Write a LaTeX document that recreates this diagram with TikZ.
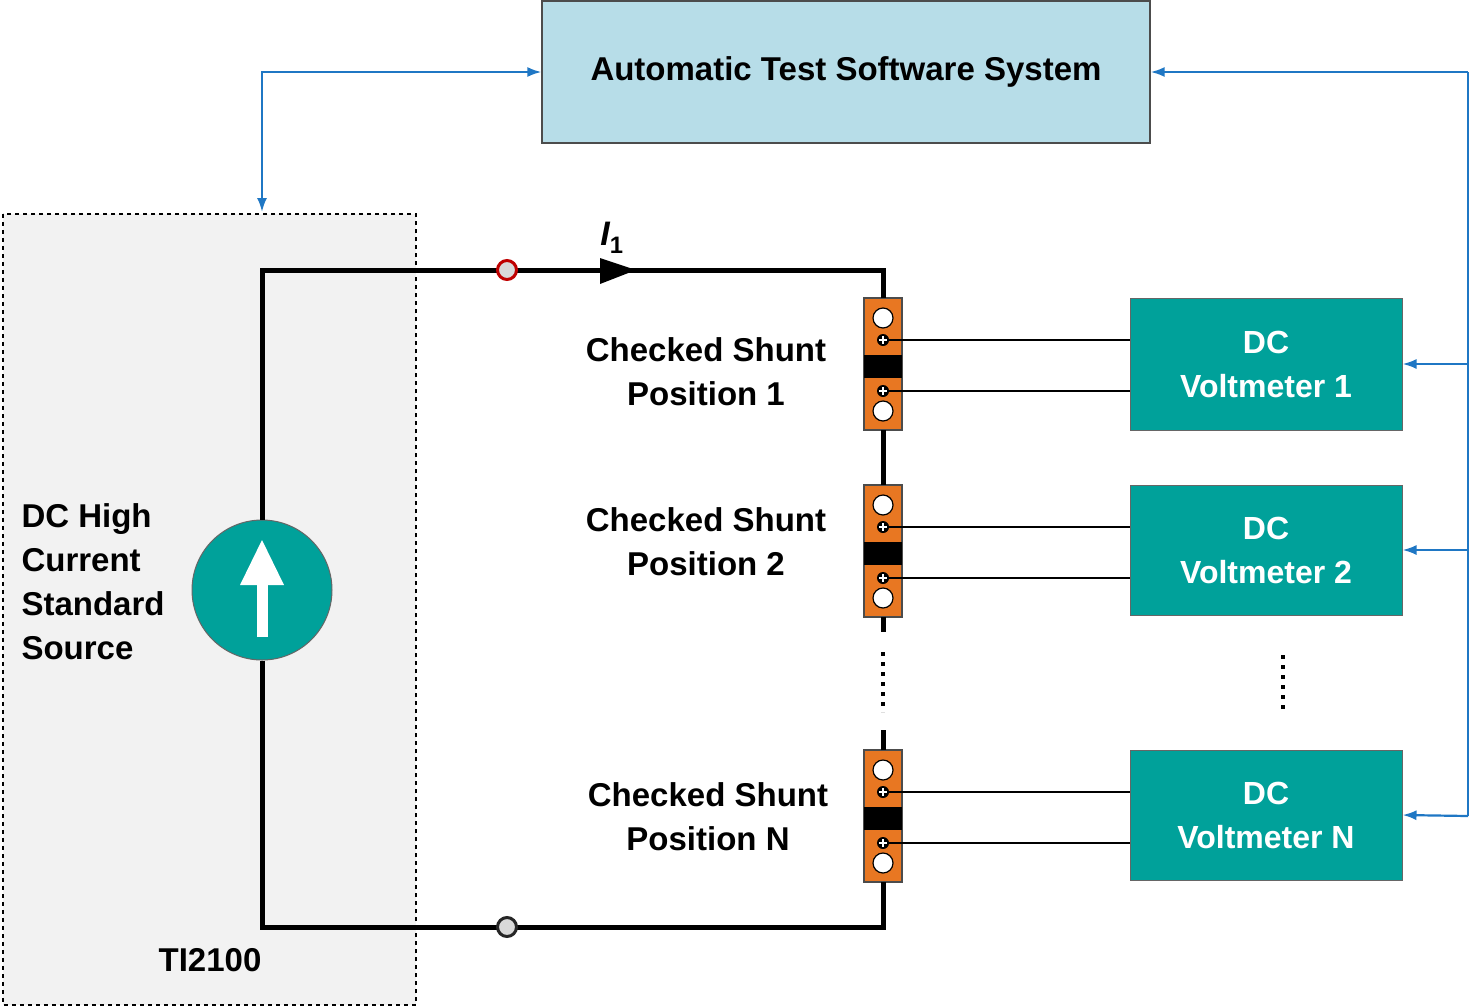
\documentclass[tikz,border=0pt]{standalone}
\usepackage{fontspec}
\setmainfont{Liberation Sans}
\usetikzlibrary{arrows.meta}
\definecolor{teal1}{HTML}{00A19A}
\definecolor{lblue}{HTML}{B7DDE8}
\definecolor{ablue}{HTML}{1F77C4}
\definecolor{orng}{HTML}{E87722}
\tikzset{
 sig/.style={ablue,line width=2.2pt,-{Latex[length=14pt,width=10pt]}},
 sig2/.style={ablue,line width=2.2pt,{Latex[length=14pt,width=10pt]}-{Latex[length=14pt,width=10pt]}},
 wire/.style={line width=5pt},
 thin/.style={line width=2pt},
 vm/.style={draw=black!60,fill=teal1,line width=1pt,text=white,font=\bfseries\fontsize{32}{44}\selectfont,align=center},
 lbl/.style={font=\bfseries\fontsize{33}{44}\selectfont,align=center},
 shuntbody/.style={draw=black!70,fill=orng,line width=1.2pt},
}
\newcommand{\shunt}[2]{% #1 top y, #2 name
 \draw[shuntbody] (864,#1) rectangle (902,#1+132);
 \fill (864,#1+57) rectangle (902,#1+80);
 \draw[fill=white,line width=1.2pt] (883,#1+20) circle (10);
 \draw[fill=white,line width=1.2pt] (883,#1+113) circle (10);
 \node[circle,fill=black,inner sep=0pt,minimum size=12pt] (#2p) at (883,#1+42) {};
 \node[circle,fill=black,inner sep=0pt,minimum size=12pt] (#2m) at (883,#1+93) {};
 \draw[white,line width=1.4pt] (879,#1+42)--(887,#1+42) (883,#1+38)--(883,#1+46) (879,#1+93)--(887,#1+93) (883,#1+89)--(883,#1+97);
 \coordinate (#2t) at (883,#1); \coordinate (#2b) at (883,#1+132);
}
\begin{document}
\begin{tikzpicture}[x=1pt,y=-1pt]
\useasboundingbox (0,0) rectangle (1471,1007);
% top box
\node[draw=black!70,fill=lblue,line width=1.2pt,minimum width=608pt,minimum height=142pt,font=\bfseries\fontsize{33}{40}\selectfont] (ats) at (846,72) {Automatic Test Software System};
% dashed box
\draw[dashed,fill=black!5,line width=2pt,dash pattern=on 4pt off 4pt] (3,214) rectangle (416,1005);
% voltmeters
\node[vm,minimum width=272pt,minimum height=132pt] (v1) at (1266,364) {DC\\Voltmeter 1};
\node[vm,minimum width=272pt,minimum height=130pt] (v2) at (1266,550) {DC\\Voltmeter 2};
\node[vm,minimum width=272pt,minimum height=130pt] (vn) at (1266,815) {DC\\Voltmeter N};
% blue links
\coordinate (tl) at (262,72); \coordinate (sb) at (262,212);
\draw[sig2] (sb) -- (tl) -- (ats.west);
\coordinate (tr) at (1468,72);
\draw[sig] (tr) -- (ats.east);
\draw[ablue,line width=2.2pt] (tr) -- (1468,816);
\draw[sig] (1468,364) -- (v1.east);
\draw[sig] (1468,550) -- (v2.east);
\draw[sig] (1468,816) -- (vn.east);
% shunts
\shunt{298}{sa}
\shunt{485}{sb}
\shunt{750}{sn}
% source
\node[circle,fill=teal1,draw=black!60,line width=1pt,minimum size=140pt] (src) at (262,590) {};
\draw[white,line width=11pt] (262,637) -- (262,580);
\fill[white] (240,585) -- (262,540) -- (284,585) -- cycle;
% circuit
\coordinate (c1) at (262,270); \coordinate (c2) at (883,270);
\coordinate (c3) at (262,927); \coordinate (c4) at (883,927);
\draw[wire] (src.north) -- (c1) -- (c2) -- (sat);
\draw[wire] (src.south) -- (c3) -- (c4) -- (snb);
\draw[wire] (sab) -- (sbt);
\draw[wire] (sbb) -- (883,632);
\draw[wire] (snt) -- (883,730);
\draw[line width=4pt,dash pattern=on 4pt off 6pt] (883,652) -- (883,712);
\draw[line width=4pt,dash pattern=on 4pt off 6pt] (1283,655) -- (1283,712);
\fill (600,258) -- (636,270) -- (600,284) -- cycle;
\node[font=\bfseries\itshape\fontsize{34}{40}\selectfont] (i1) at (612,238) {I\textsubscript{\upshape 1}};
\node[circle,draw=red!75!black,fill=black!15,line width=3pt,minimum size=19pt,inner sep=0pt] (tp) at (507,270) {};
\node[circle,draw=black!85,fill=black!15,line width=3pt,minimum size=19pt,inner sep=0pt] (tm) at (507,927) {};
% sense wires
\draw[thin] (sap) -- (v1.west|-sap); \draw[thin] (sam) -- (v1.west|-sam);
\draw[thin] (sbp) -- (v2.west|-sbp); \draw[thin] (sbm) -- (v2.west|-sbm);
\draw[thin] (snp) -- (vn.west|-snp); \draw[thin] (snm) -- (vn.west|-snm);
% labels
\node[lbl] (l1) at (706,372) {Checked Shunt\\Position 1};
\node[lbl] (l2) at (706,542) {Checked Shunt\\Position 2};
\node[lbl] (l3) at (708,817) {Checked Shunt\\Position N};
\node[lbl,align=left,anchor=north west] (ls) at (18,500) {DC High\\Current\\Standard\\Source};
\node[lbl] (ti) at (210,960) {TI2100};
\end{tikzpicture}
\end{document}
